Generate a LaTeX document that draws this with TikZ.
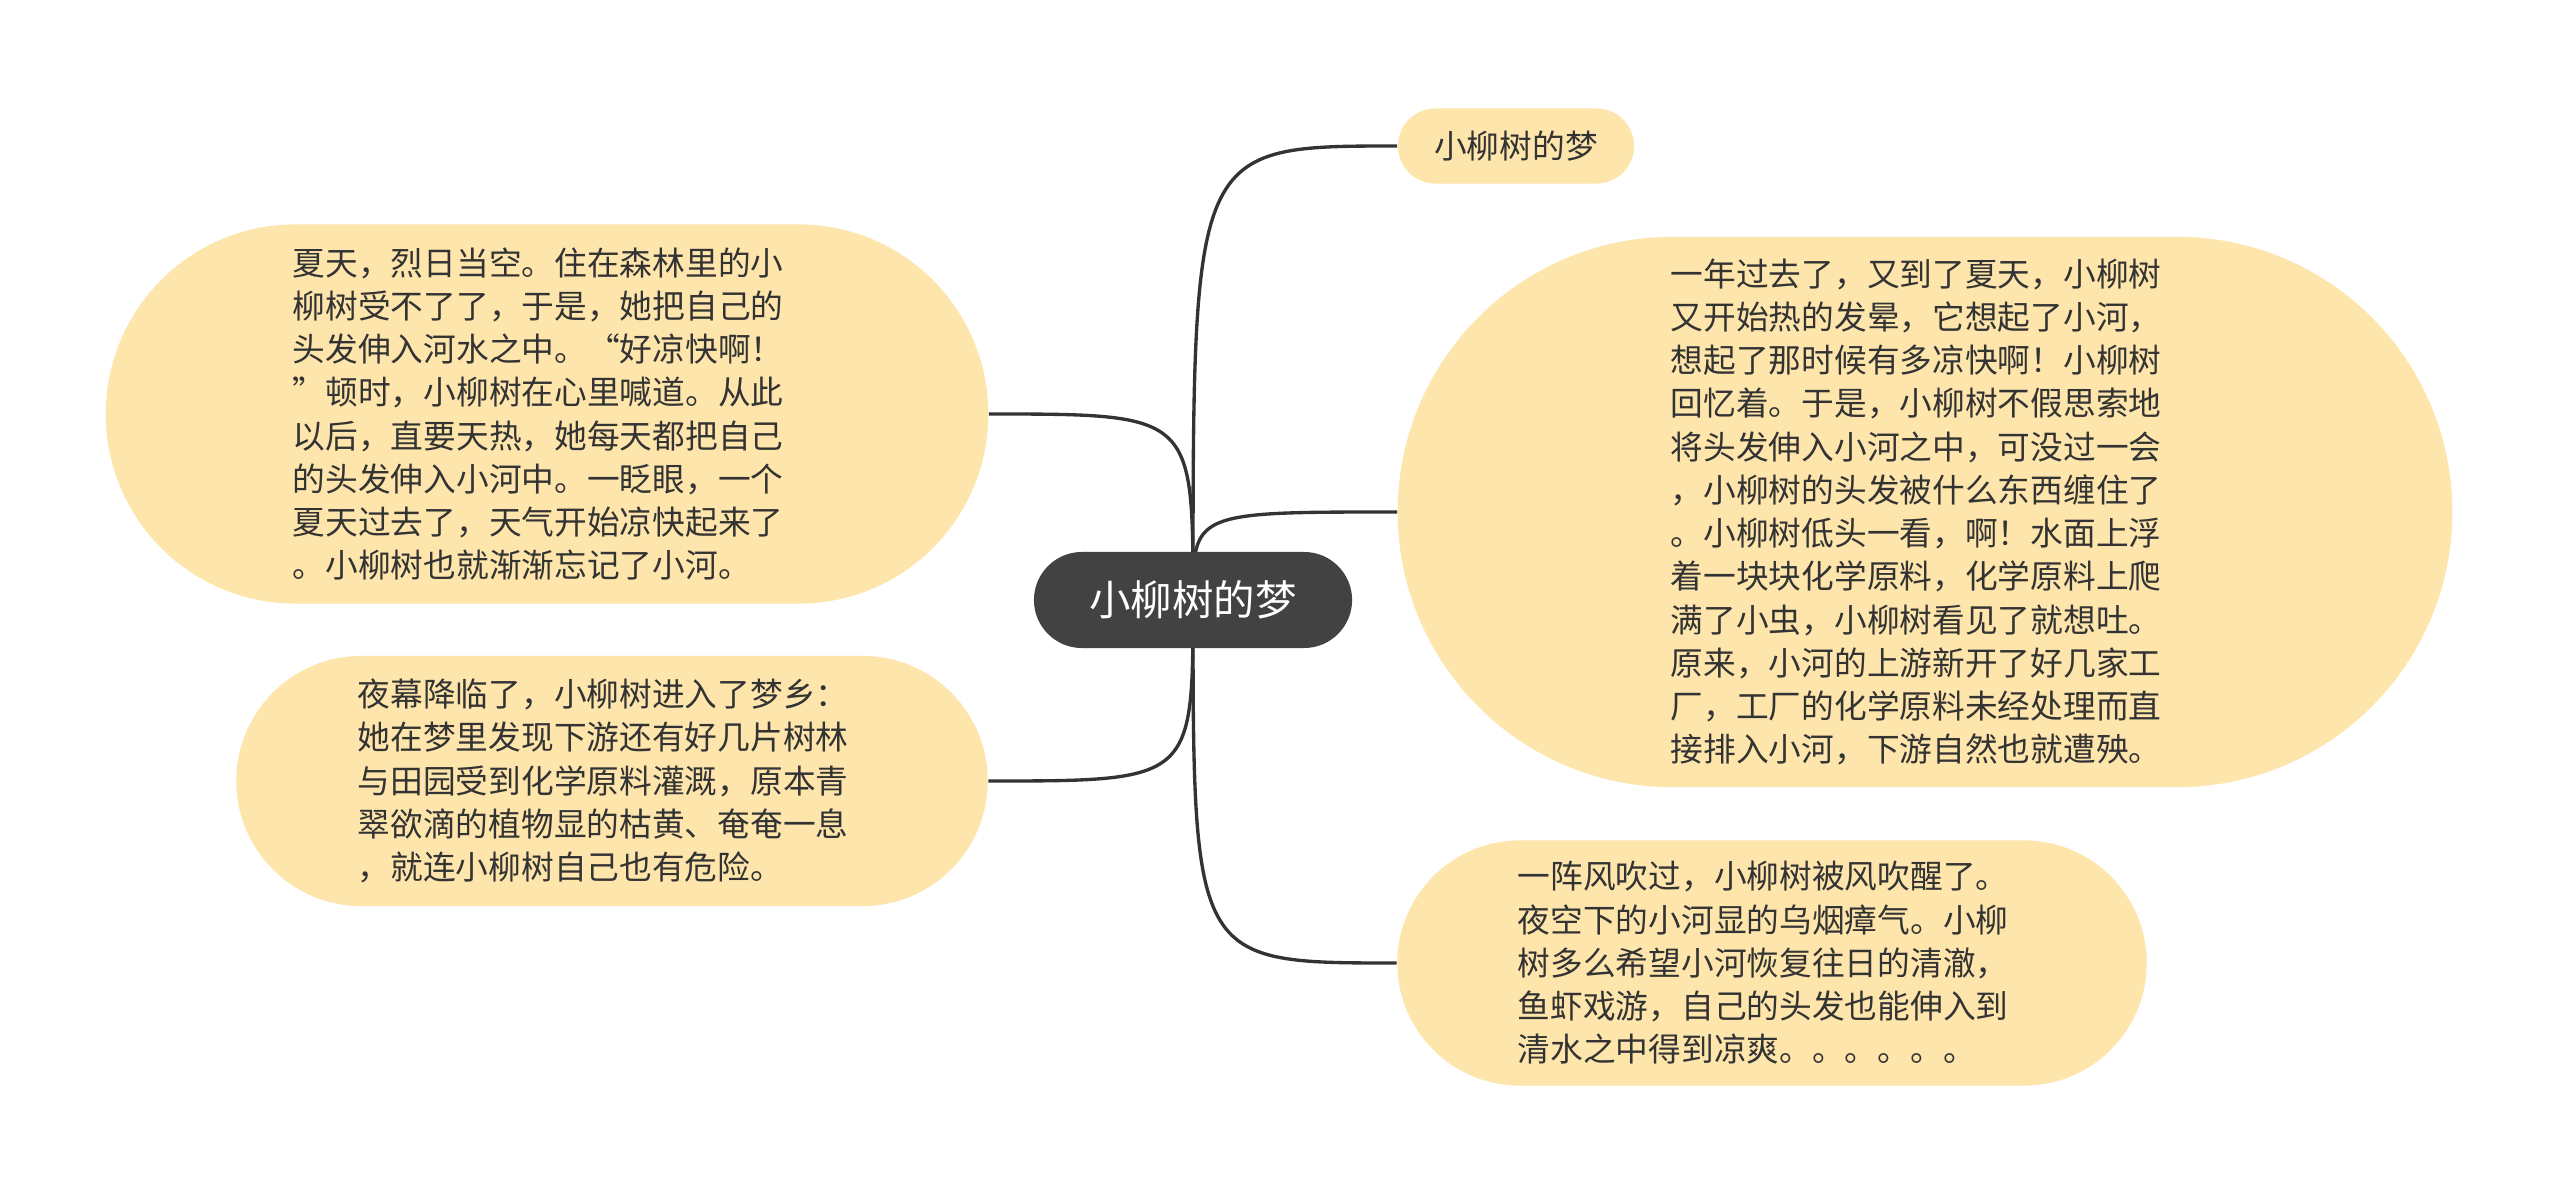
\documentclass[tikz,border=0pt]{standalone}
\usepackage{fontspec}
\usepackage{tikz}
\usetikzlibrary{positioning}
\newfontfamily\cjk{Noto Sans CJK SC}
\definecolor{leafyellow}{HTML}{FDE5AC}
\definecolor{rootgray}{HTML}{424242}
\definecolor{inkgray}{HTML}{333333}

\begin{document}
\begin{tikzpicture}[x=0.01cm, y=-0.01cm,
  root/.style={fill=rootgray, text=white, font=\cjk\fontsize{11.8}{14}\selectfont,
    minimum width=3.18cm, minimum height=0.96cm, rounded corners=0.48cm, inner sep=0pt},
  leaf/.style n args={3}{fill=leafyellow, text=inkgray, font=\cjk\fontsize{9.3}{12.3}\selectfont,
    align=left, inner sep=0pt, minimum width=#1, minimum height=#2, rounded corners=#3},
  para/.style={text width=5.08cm},
  link/.style={draw=inkgray, line width=0.95pt}]

\useasboundingbox (0, 0) rectangle (2560, 1197);
\fill[white] (0, 0) rectangle (2560, 1197);

\coordinate (hub) at (1193, 600);

% right side
\node[leaf={2.36cm}{0.75cm}{0.375cm}] (dream) at (1516, 146) {小柳树的梦};
\node[leaf={10.54cm}{5.5cm}{2.75cm}, para] (summer) at (1925, 512) {一年过去了，又到了夏天，小柳树\\
又开始热的发晕，它想起了小河，\\
想起了那时候有多凉快啊！小柳树\\
回忆着。于是，小柳树不假思索地\\
将头发伸入小河之中，可没过一会\\
，小柳树的头发被什么东西缠住了\\
。小柳树低头一看，啊！水面上浮\\
着一块块化学原料，化学原料上爬\\
满了小虫，小柳树看见了就想吐。\\
原来，小河的上游新开了好几家工\\
厂，工厂的化学原料未经处理而直\\
接排入小河，下游自然也就遭殃。};
\node[leaf={7.49cm}{2.45cm}{1.225cm}, para] (wind) at (1772, 963) {一阵风吹过，小柳树被风吹醒了。\\
夜空下的小河显的乌烟瘴气。小柳\\
树多么希望小河恢复往日的清澈，\\
鱼虾戏游，自己的头发也能伸入到\\
清水之中得到凉爽。。。。。。};

% left side
\node[leaf={8.82cm}{3.79cm}{1.895cm}, para] (heat) at (547, 414) {夏天，烈日当空。住在森林里的小\\
柳树受不了了，于是，她把自己的\\
头发伸入河水之中。“好凉快啊！\\
”顿时，小柳树在心里喊道。从此\\
以后，直要天热，她每天都把自己\\
的头发伸入小河中。一眨眼，一个\\
夏天过去了，天气开始凉快起来了\\
。小柳树也就渐渐忘记了小河。};
\node[leaf={7.51cm}{2.5cm}{1.25cm}, para] (night) at (612, 781) {夜幕降临了，小柳树进入了梦乡：\\
她在梦里发现下游还有好几片树林\\
与田园受到化学原料灌溉，原本青\\
翠欲滴的植物显的枯黄、奄奄一息\\
，就连小柳树自己也有危险。};

\draw[link] (hub) .. controls (hub |- dream.west) .. (dream.west);
\draw[link] (hub) .. controls (hub |- summer.west) .. (summer.west);
\draw[link] (hub) .. controls (hub |- wind.west) .. (wind.west);
\draw[link] (hub) .. controls (hub |- heat.east) .. (heat.east);
\draw[link] (hub) .. controls (hub |- night.east) .. (night.east);

\node[root] (root) at (hub) {小柳树的梦};
\end{tikzpicture}
\end{document}
